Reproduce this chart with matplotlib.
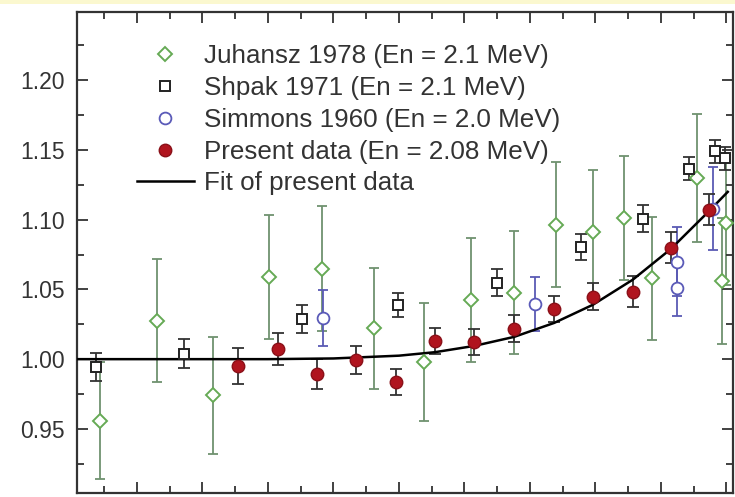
import matplotlib
matplotlib.use('Agg')
import matplotlib.pyplot as plt
from matplotlib.patches import Rectangle
from matplotlib.ticker import MultipleLocator

plt.rcParams['font.family'] = ['Liberation Sans', 'DejaVu Sans']

# ## Data ## #
# x axis labels are cut off in the original: x is in tick units
juh_x = [0.44, 1.31, 2.16, 3.02, 3.82, 4.62, 5.38, 6.10, 6.76, 7.40, 7.96,
         8.44, 8.86, 9.55, 9.93, 9.99]
juh_y = [0.956, 1.0275, 0.974, 1.059, 1.065, 1.022, 0.998, 1.0426, 1.0476,
         1.0965, 1.091, 1.101, 1.058, 1.130, 1.056, 1.098]
juh_err = [0.042, 0.044, 0.042, 0.0445, 0.0445, 0.0435, 0.042, 0.0445, 0.044,
           0.045, 0.045, 0.0445, 0.044, 0.046, 0.045, 0.045]

shp_x = [0.37, 1.72, 3.52, 4.99, 6.50, 7.78, 8.73, 9.43, 9.82, 9.98]
shp_y = [0.9945, 1.0038, 1.029, 1.039, 1.0548, 1.0807, 1.1008, 1.1367,
         1.149, 1.144]
shp_err = [0.010, 0.0104, 0.010, 0.0086, 0.0097, 0.0093, 0.0097, 0.008,
           0.008, 0.008]

sim_x = [3.84, 7.08, 9.24, 9.24, 9.79]
sim_y = [1.0297, 1.0397, 1.070, 1.051, 1.108]
sim_err = [0.020, 0.0195, 0.025, 0.020, 0.030]

pre_x = [2.54, 3.15, 3.75, 4.34, 4.95, 5.55, 6.15, 6.76, 7.37, 7.96, 8.57,
         9.15, 9.73]
pre_y = [0.9952, 1.0074, 0.9894, 0.9995, 0.9837, 1.0131, 1.0124, 1.0218,
         1.036, 1.0448, 1.0483, 1.080, 1.1073]
pre_err = [0.013, 0.0115, 0.011, 0.010, 0.0093, 0.0093, 0.0093, 0.0097,
           0.0093, 0.0095, 0.011, 0.011, 0.011]

fit_x = [0.08, 3.0, 4.0, 5.0, 5.55, 6.15, 6.76, 7.37, 7.96, 8.57, 9.15,
         9.73, 10.02]
fit_y = [1.000, 1.000, 1.0005, 1.0025, 1.0050, 1.0095, 1.0160, 1.0260,
         1.0390, 1.0570, 1.0790, 1.1060, 1.1200]

labels = ['Juhansz 1978 (En = 2.1 MeV)',
          'Shpak 1971 (En = 2.1 MeV)',
          'Simmons 1960 (En = 2.0 MeV)',
          'Present data (En = 2.08 MeV)',
          'Fit of present data']

fs = 16.5      # tick labels
fs_leg = 18.7  # legend


def main():
    fig = plt.figure(figsize=(7.35, 4.97), dpi=100)
    ax = fig.add_axes([77 / 735, 4 / 497, 656 / 735, 481 / 497])

    # thin yellow strip at the very top of the original crop
    fig.patches.append(Rectangle((0, 1 - 4 / 497), 1, 4 / 497,
                                 transform=fig.transFigure,
                                 facecolor='#fbf8cf', edgecolor='none'))

    # error bars
    ax.errorbar(juh_x, juh_y, yerr=juh_err, fmt='none', ecolor='#6f926f',
                elinewidth=1.3, capsize=3.8, capthick=1.3, zorder=1)
    ax.errorbar(shp_x, shp_y, yerr=shp_err, fmt='none', ecolor='#333333',
                elinewidth=1.3, capsize=4.2, capthick=1.3, zorder=2)
    ax.errorbar(sim_x, sim_y, yerr=sim_err, fmt='none', ecolor='#5a5ab4',
                elinewidth=1.3, capsize=3.8, capthick=1.3, zorder=2)
    ax.errorbar(pre_x, pre_y, yerr=pre_err, fmt='none', ecolor='#333333',
                elinewidth=1.3, capsize=4.2, capthick=1.3, zorder=3)

    # markers
    ax.plot(juh_x, juh_y, 'D', ms=7, mfc='white', mec='#66aa55', mew=1.4,
            label=labels[0], zorder=4)
    ax.plot(shp_x, shp_y, 's', ms=6.8, mfc='white', mec='#222222', mew=1.4,
            label=labels[1], zorder=4)
    ax.plot(sim_x, sim_y, 'o', ms=8.5, mfc='white', mec='#5a5ab8', mew=1.3,
            label=labels[2], zorder=4)
    ax.plot(pre_x, pre_y, 'o', ms=9, mfc='#b0141e', mec='#8a1018', mew=1.0,
            label=labels[3], zorder=5)
    ax.plot(fit_x, fit_y, '-', color='black', lw=1.8, label=labels[4],
            zorder=3.5)

    ax.set_xlim(0.084, 10.1)
    ax.set_ylim(0.904, 1.249)
    ax.xaxis.set_major_locator(MultipleLocator(1))
    ax.xaxis.set_minor_locator(MultipleLocator(0.5))
    ax.yaxis.set_major_locator(MultipleLocator(0.05))
    ax.yaxis.set_minor_locator(MultipleLocator(0.025))
    ax.yaxis.set_major_formatter(plt.FormatStrFormatter('%.2f'))

    ax.tick_params(which='both', direction='in', top=True, right=True,
                   width=1.3, color='#333333')
    ax.tick_params(which='major', length=8, labelsize=fs, pad=9,
                   labelcolor='#333333')
    ax.tick_params(which='minor', length=5)
    ax.tick_params(axis='x', labelbottom=False)
    for s in ax.spines.values():
        s.set_linewidth(1.6)
        s.set_color('#333333')

    leg = ax.legend(loc='upper left', bbox_to_anchor=(0.0915, 0.933),
                    frameon=False, fontsize=fs_leg, borderpad=0,
                    borderaxespad=0, handlelength=2.18, handletextpad=0.39,
                    labelspacing=0.30, numpoints=1)
    for t in leg.get_texts():
        t.set_color('#333333')

    plt.savefig('out.png', dpi=100)


if __name__ == '__main__':
    main()
